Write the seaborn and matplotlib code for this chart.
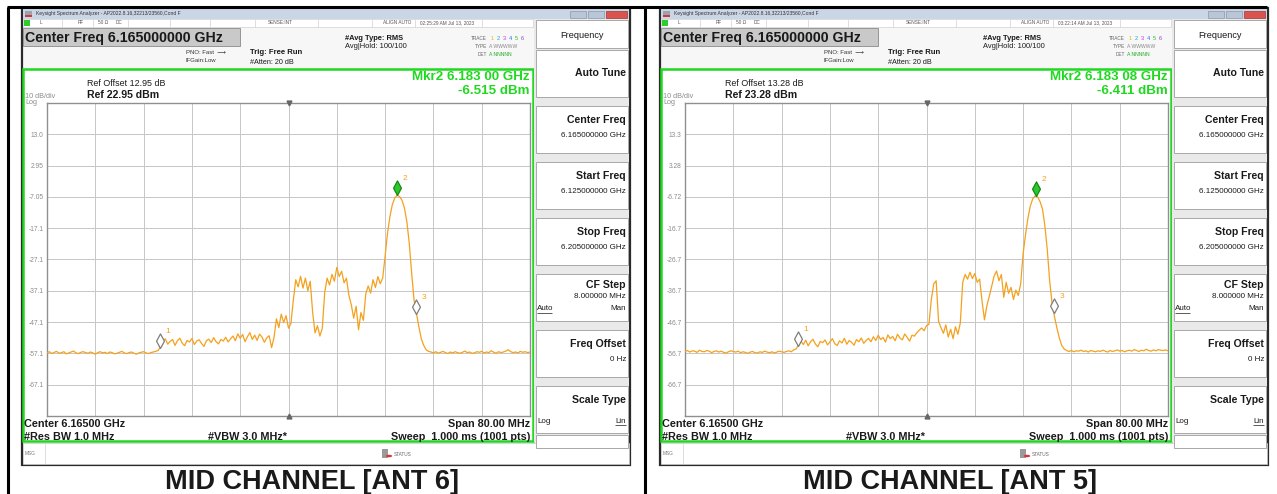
"""Two Keysight spectrum analyzer screenshots (mid channel, ANT 6 / ANT 5) redrawn."""

import numpy as np
import pandas as pd
import matplotlib
matplotlib.use("Agg")
import matplotlib.pyplot as plt
from matplotlib.patches import Rectangle, Circle
from matplotlib.lines import Line2D
from matplotlib.path import Path
import seaborn as sns

# ── Data ──────────────────────────────────────────────────────────────────────
START_GHZ = 6.125
STOP_GHZ = 6.205
STEP_MHZ = 0.4          # decimated sweep grid

ANT6_LEVEL = [
    # floor 6.1250 – 6.1434
    -56.9, -56.5, -57.1, -56.7, -56.4, -57.0, -56.8, -56.5, -57.2, -56.9,
    -56.6, -56.3, -56.9, -57.1, -56.7, -56.5, -56.8, -57.0, -56.6, -56.9,
    -57.3, -56.8, -56.5, -56.9, -56.7, -57.1, -56.6, -56.8, -57.2, -57.0,
    -56.7, -56.4, -56.9, -57.1, -56.8, -56.6, -57.0, -57.3, -56.9, -56.7,
    -56.5, -56.9, -57.1, -56.8, -56.6, -56.4, -56.1,
    -55.0,
    # low shoulder
    -53.0, -52.4, -54.1, -53.2, -52.6, -54.5, -53.0, -52.2, -53.8, -54.6,
    -52.9, -53.4, -52.3, -54.2, -53.1, -52.7, -53.9, -54.8, -53.0, -52.5,
    -53.6, -52.0, -53.3, -54.0, -52.6, -53.1, -51.9, -53.4,
    -52.4, -51.5, -53.0, -50.8, -52.2, -51.0, -53.3, -51.7, -50.4, -52.6,
    -51.2, -52.9, -50.9, -51.8, -53.5, -52.1, -51.4, -55.2, -52.0,
    -46.0, -48.8, -44.5, -47.2, -45.0, -49.0, -47.5,
    # in-band blocks
    -40.0, -33.5, -35.8, -32.4, -36.2, -33.0, -37.0, -34.0,
    -44.0, -50.5, -48.2, -51.5, -49.0,
    -37.5, -33.0, -35.2, -31.8, -34.0, -29.6, -32.5, -30.8, -34.5,
    -33.0, -38.5, -41.5, -45.8, -42.0, -49.5, -44.0,
    -46.5, -38.0, -35.5, -37.8, -33.5, -36.0, -32.5, -34.8, -33.0,
    # carrier peak
    -26.0, -18.6, -13.3, -9.5, -7.4, -6.5, -7.0, -8.1, -10.6, -14.9,
    -21.8, -31.5, -40.1, -44.4, -48.6, -52.4, -54.5, -55.9, -56.4,
    # floor 6.1886 – 6.2050
    -56.6, -56.9, -56.5, -57.0, -56.7, -56.4, -56.8, -57.1, -56.6, -56.9,
    -56.5, -56.8, -57.0, -56.7, -56.3, -56.8, -56.6, -57.0, -56.9, -56.5,
    -56.7, -56.4, -56.9, -56.6, -56.8, -56.2, -56.7, -57.0, -56.5, -56.8,
    -56.6, -56.3, -55.9, -56.5, -56.8, -56.6, -56.9, -56.4, -56.7, -56.5,
    -56.8, -56.6,
]

ANT5_LEVEL = [
    # floor 6.1250 – 6.1430
    -56.1, -55.8, -56.3, -55.9, -56.0, -56.4, -55.7, -56.1, -56.2, -55.8,
    -56.0, -56.5, -56.1, -55.9, -56.3, -56.0, -56.4, -56.6, -56.2, -55.9,
    -56.1, -56.3, -56.0, -56.5, -56.2, -56.4, -56.7, -56.3, -56.1, -56.5,
    -56.6, -56.2, -56.4, -56.0, -56.3, -56.5, -56.2, -56.6, -56.3, -56.0,
    -56.2, -56.4, -56.1, -55.9, -56.2, -55.6,
    -55.3, -54.0,
    # low shoulder
    -52.8, -53.9, -52.5, -54.3, -53.0, -52.2, -53.7, -54.6, -52.9, -53.3,
    -52.4, -54.0, -53.1, -52.0, -53.6, -54.2, -52.7, -53.4, -51.9, -53.8,
    -52.6, -53.2, -54.1, -52.3, -53.0, -51.8, -53.5, -52.6,
    -51.9, -53.0, -51.4, -52.6, -50.9, -52.3, -51.6, -53.1, -50.8, -52.0,
    -51.3, -52.7, -50.6, -51.8, -52.4, -50.5, -51.6, -52.8, -50.9, -51.2,
    -50.1, -49.3, -48.6, -49.5, -47.8,
    # in-band blocks
    -47.5, -39.5, -34.5, -33.5, -46.5,
    -48.5, -50.3, -47.6, -51.5, -49.0, -52.0, -48.2, -50.6, -47.0,
    -34.0, -31.5, -33.0, -30.8, -32.8, -31.2, -34.0, -33.0,
    -40.0, -46.0, -41.5,
    -38.5, -35.2, -32.0, -30.4, -33.5, -31.5, -38.8, -34.0,
    -37.5, -35.6, -39.5, -36.5, -38.2, -34.5,
    # carrier peak
    -24.9, -18.8, -13.5, -9.6, -7.3, -6.4, -6.7, -8.2, -10.5, -15.8,
    -23.5, -33.5, -40.8, -45.0, -48.6, -51.8, -54.2, -55.3, -55.8,
    # floor 6.1886 – 6.2050
    -56.1, -55.8, -56.2, -55.9, -56.0, -55.7, -56.1, -55.9, -56.3, -55.8,
    -56.0, -56.2, -55.9, -56.1, -55.7, -56.0, -56.3, -55.8, -56.1, -55.9,
    -55.6, -56.0, -55.8, -56.2, -55.9, -55.7, -56.0, -55.5, -55.8, -56.1,
    -55.7, -55.9, -55.4, -55.8, -56.0, -55.6, -55.9, -55.5, -55.7, -55.8,
    -55.6, -55.9,
]

ANT6_MARKERS_GHZ = [6.1437, 6.18300, 6.1862]
ANT5_MARKERS_GHZ = [6.1437, 6.18308, 6.1861]
MARKER_NAMES = ["1", "2", "3"]

ANT6_REF_DBM = 22.95
ANT5_REF_DBM = 23.28
ANT6_YLABELS = ["13.0", "2.95", "-7.05", "-17.1", "-27.1", "-37.1", "-47.1", "-57.1", "-67.1"]
ANT5_YLABELS = ["13.3", "3.28", "-6.72", "-16.7", "-26.7", "-36.7", "-46.7", "-56.7", "-66.7"]

PANELS = [
    dict(dx=0, level=ANT6_LEVEL, markers=ANT6_MARKERS_GHZ, ref=ANT6_REF_DBM,
         ylabels=ANT6_YLABELS, offset="Ref Offset 12.95 dB", reftxt="Ref 22.95 dBm",
         mkr="Mkr2 6.183 00 GHz", mkr_val="-6.515 dBm",
         clock="02:25:29 AM Jul 13, 2023", caption="MID CHANNEL [ANT 6]"),
    dict(dx=638, level=ANT5_LEVEL, markers=ANT5_MARKERS_GHZ, ref=ANT5_REF_DBM,
         ylabels=ANT5_YLABELS, offset="Ref Offset 13.28 dB", reftxt="Ref 23.28 dBm",
         mkr="Mkr2 6.183 08 GHz", mkr_val="-6.411 dBm",
         clock="03:22:14 AM Jul 13, 2023", caption="MID CHANNEL [ANT 5]"),
]

MENU = [("Center Freq", "6.165000000 GHz"), ("Start Freq", "6.125000000 GHz"),
        ("Stop Freq", "6.205000000 GHz"), ("CF Step", "8.000000 MHz"),
        ("Freq Offset", "0 Hz"), ("Scale Type", "")]

# ── Style ─────────────────────────────────────────────────────────────────────
W, H = 1277, 494
TRACE = "#f4a11d"
GREEN = "#1fd81f"
GRID = "#c6c6c6"
DARK = "#1a1a1a"
GREY_TXT = "#8c8c8c"

sns.set_style("white")
plt.rcParams["font.family"] = ["Liberation Sans", "DejaVu Sans"]

# diamond with its lower tip on the data point
TIP_DIAMOND = Path([(0, 0), (0.7, 1.3), (0, 2.6), (-0.7, 1.3), (0, 0)],
                   [Path.MOVETO, Path.LINETO, Path.LINETO, Path.LINETO, Path.CLOSEPOLY])


def fx(x):
    return x / W


def fy(y):
    return 1 - y / H


def box(fig, x0, y0, x1, y1, fc, ec="none", lw=0.8, z=1):
    fig.add_artist(Rectangle((fx(x0), fy(y1)), (x1 - x0) / W, (y1 - y0) / H,
                             transform=fig.transFigure, fc=fc, ec=ec, lw=lw, zorder=z))


def line(fig, x0, y0, x1, y1, color, lw=1.0, z=2):
    fig.add_artist(Line2D([fx(x0), fx(x1)], [fy(y0), fy(y1)], transform=fig.transFigure,
                          color=color, lw=lw, zorder=z, solid_capstyle="butt"))


def txt(fig, x, y, s, size=6, ha="left", va="center", color=DARK, weight="normal", z=5):
    fig.text(fx(x), fy(y), s, fontsize=size, ha=ha, va=va, color=color,
             fontweight=weight, zorder=z)


def draw_chrome(fig, p):
    d = p["dx"]
    # screenshot body
    box(fig, 22 + d, 8, 630 + d, 465, "#f7f7f7", ec="#2b2b2b", lw=1.6, z=0.5)
    # title bar
    box(fig, 23 + d, 9, 629 + d, 19, "#cad6e6", z=1)
    box(fig, 25 + d, 11, 32 + d, 17, "#9aa4b0", z=2)
    box(fig, 25 + d, 15, 32 + d, 17, "#d23a3a", z=3)
    txt(fig, 36 + d, 14, "Keysight Spectrum Analyzer - AP2022.8.16,32213/23560,Cond F", 3.6, color="#333333")
    box(fig, 570 + d, 11, 586 + d, 18, "#b9c6d8", ec="#8d99aa", lw=0.5, z=2)
    box(fig, 588 + d, 11, 604 + d, 18, "#b9c6d8", ec="#8d99aa", lw=0.5, z=2)
    box(fig, 606 + d, 11, 627 + d, 18, "#d9534f", ec="#a33", lw=0.5, z=2)
    # status row
    box(fig, 23 + d, 19, 533 + d, 27, "#ffffff", ec="#d0d0d0", lw=0.5, z=1)
    box(fig, 24 + d, 20, 30 + d, 26, "#2ecc2e", z=2)
    for sx in [62, 93, 128, 170, 210, 255, 318, 372, 415, 482]:
        line(fig, sx + d, 19, sx + d, 27, "#d0d0d0", 0.5)
    for sx, s in [(40, "L"), (78, "RF"), (98, "50 Ω"), (116, "DC"), (268, "SENSE:INT"),
                  (383, "ALIGN AUTO"), (420, p["clock"])]:
        txt(fig, sx + d, 23, s, 3.4, color="#555555")
    # setup header
    box(fig, 23 + d, 28, 240 + d, 46, "#c9c9c9", ec="#8a8a8a", lw=0.6, z=1)
    txt(fig, 25 + d, 38, "Center Freq 6.165000000 GHz", 10.2, weight="bold")
    txt(fig, 186 + d, 52, "PNO: Fast  ⟶", 4.3, color="#333333")
    txt(fig, 186 + d, 61, "IFGain:Low", 4.3, color="#333333")
    txt(fig, 250 + d, 53, "Trig: Free Run", 5.6, weight="bold")
    txt(fig, 250 + d, 62, "#Atten: 20 dB", 5.2)
    txt(fig, 345 + d, 38, "#Avg Type: RMS", 5.4, weight="bold")
    txt(fig, 345 + d, 47, "Avg|Hold: 100/100", 5.4)
    txt(fig, 487 + d, 38, "TRACE", 3.4, ha="right", color="#666666")
    txt(fig, 487 + d, 46, "TYPE", 3.4, ha="right", color="#666666")
    txt(fig, 487 + d, 54, "DET", 3.4, ha="right", color="#666666")
    for i, c in enumerate(["#e6b800", "#1aa3d9", "#d633d6", "#3366ff", "#22bb22", "#8844cc"]):
        txt(fig, 491 + i * 6 + d, 38, str(i + 1), 4.0, color=c)
    txt(fig, 489 + d, 46, "A WWWWW", 3.6, color="#888888")
    txt(fig, 489 + d, 54, "A NNNNN", 3.6, color="#22aa22")
    # measurement frame
    box(fig, 23 + d, 69, 533 + d, 441, "#ffffff", ec=GREEN, lw=1.8, z=1)
    txt(fig, 87 + d, 83, p["offset"], 6.4)
    txt(fig, 87 + d, 95, p["reftxt"], 7.6, weight="bold")
    txt(fig, 25 + d, 97, "10 dB/div", 5.2, color=GREY_TXT)
    txt(fig, 25 + d, 103, "Log", 5.2, color=GREY_TXT)
    txt(fig, 530 + d, 77, p["mkr"], 9.6, ha="right", color=GREEN, weight="bold")
    txt(fig, 530 + d, 91, p["mkr_val"], 9.6, ha="right", color=GREEN, weight="bold")
    txt(fig, 24 + d, 424, "Center 6.16500 GHz", 7.8, weight="bold")
    txt(fig, 530 + d, 424, "Span 80.00 MHz", 7.8, ha="right", weight="bold")
    txt(fig, 24 + d, 437, "#Res BW 1.0 MHz", 7.8, weight="bold")
    txt(fig, 208 + d, 437, "#VBW 3.0 MHz*", 7.8, weight="bold")
    txt(fig, 530 + d, 437, "Sweep  1.000 ms (1001 pts)", 7.8, ha="right", weight="bold")
    # message row
    box(fig, 23 + d, 443, 629 + d, 464, "#ffffff", ec="#c8c8c8", lw=0.5, z=1)
    line(fig, 45 + d, 443, 45 + d, 464, "#d0d0d0", 0.5)
    txt(fig, 25 + d, 453, "MSG", 3.4, color="#777777")
    box(fig, 382 + d, 449, 388 + d, 458, "#9a9a9a", z=2)
    fig.add_artist(Circle((fx(389 + d), fy(456)), 3.2 / W, transform=fig.transFigure,
                          fc="#dd3333", ec="none", zorder=3))
    txt(fig, 394 + d, 454, "STATUS", 3.4, color="#666666")
    # soft key menu
    box(fig, 534 + d, 19, 629 + d, 442, "#e9e9e9", z=1)
    box(fig, 536 + d, 20, 628 + d, 48, "#ffffff", ec="#a8a8a8", lw=0.7, z=2)
    txt(fig, 582 + d, 36, "Frequency", 6.6, ha="center")
    box(fig, 536 + d, 50, 628 + d, 97, "#ffffff", ec="#a8a8a8", lw=0.7, z=2)
    txt(fig, 626 + d, 73, "Auto Tune", 7.6, ha="right", weight="bold")
    for k, (title, value) in enumerate(MENU):
        top = 106 + k * 56
        box(fig, 536 + d, top, 628 + d, top + 47, "#ffffff", ec="#a8a8a8", lw=0.7, z=2)
        small = title == "CF Step"
        txt(fig, 626 + d, top + (11 if small else 14), title, 7.6, ha="right", weight="bold")
        if value:
            txt(fig, 626 + d, top + (23 if small else 29), value, 5.8, ha="right")
    txt(fig, 537 + d, 309, "Auto", 5.8)
    line(fig, 537 + d, 313, 552 + d, 313, DARK, 0.5)
    txt(fig, 626 + d, 309, "Man", 5.8, ha="right")
    txt(fig, 537 + d, 421, "Log", 5.8)
    txt(fig, 626 + d, 421, "Lin", 5.8, ha="right")
    line(fig, 615 + d, 425, 626 + d, 425, DARK, 0.5)
    box(fig, 536 + d, 435, 628 + d, 448, "#ffffff", ec="#a8a8a8", lw=0.7, z=2)
    # caption
    txt(fig, 312 + d, 489, p["caption"], 19.5, ha="center", va="baseline", weight="bold")


def draw_trace(fig, p):
    d = p["dx"]
    ref = p["ref"]
    ax = fig.add_axes([fx(47 + d), fy(416), 483 / W, 313 / H])
    ax.set_zorder(4)
    levels = np.asarray(p["level"], dtype=float)
    freqs = START_GHZ + np.arange(len(levels)) * STEP_MHZ / 1000.0
    df = pd.DataFrame({"freq_ghz": freqs, "level_dbm": levels})
    sns.lineplot(data=df, x="freq_ghz", y="level_dbm", ax=ax, color=TRACE, lw=0.9,
                 estimator=None, sort=False, legend=False, zorder=3)

    ax.set_xlim(START_GHZ, STOP_GHZ)
    ax.set_ylim(ref - 100, ref)
    ax.set_xticks(np.linspace(START_GHZ, STOP_GHZ, 11))
    ax.set_xticklabels([])
    ax.set_yticks([ref - 10 * k for k in range(1, 10)])
    ax.set_yticklabels(p["ylabels"])
    ax.tick_params(length=0, labelsize=4.8, labelcolor=GREY_TXT, pad=2.5)
    ax.grid(True, color=GRID, lw=0.7)
    ax.set_xlabel("")
    ax.set_ylabel("")
    for sp in ax.spines.values():
        sp.set_color("#8f8f8f")
        sp.set_linewidth(1.0)
    ax.set_facecolor("#ffffff")

    centre = (START_GHZ + STOP_GHZ) / 2
    ax.plot([centre], [ref], marker="v", ms=3.5, color="#666666", clip_on=False, zorder=5)
    ax.plot([centre], [ref - 100], marker="^", ms=3.5, color="#666666", clip_on=False, zorder=5)

    mk_f = np.asarray(p["markers"])
    mk_l = np.interp(mk_f, freqs, levels)
    for i, (f, lv) in enumerate(zip(mk_f, mk_l)):
        active = MARKER_NAMES[i] == "2"
        ax.plot([f], [lv], marker=TIP_DIAMOND, ms=21, ls="none",
                mfc="#2fc62f" if active else "#ffffff",
                mec="#138a13" if active else "#7d7d7d", mew=0.9, zorder=6)
        ax.annotate(MARKER_NAMES[i], (f, lv), xytext=(4, 11), textcoords="offset points",
                    fontsize=6, color=TRACE, zorder=7)


fig = plt.figure(figsize=(W / 100, H / 100), dpi=100)
fig.patch.set_facecolor("#ffffff")

for p in PANELS:
    draw_chrome(fig, p)
    draw_trace(fig, p)

# table borders round the two cells
line(fig, 7, 7, 1267, 7, "#000000", 2.2, z=10)
line(fig, 8, 7, 8, 494, "#000000", 2.2, z=10)
line(fig, 645, 7, 645, 494, "#000000", 2.2, z=10)

fig.savefig("out.png", dpi=100)
